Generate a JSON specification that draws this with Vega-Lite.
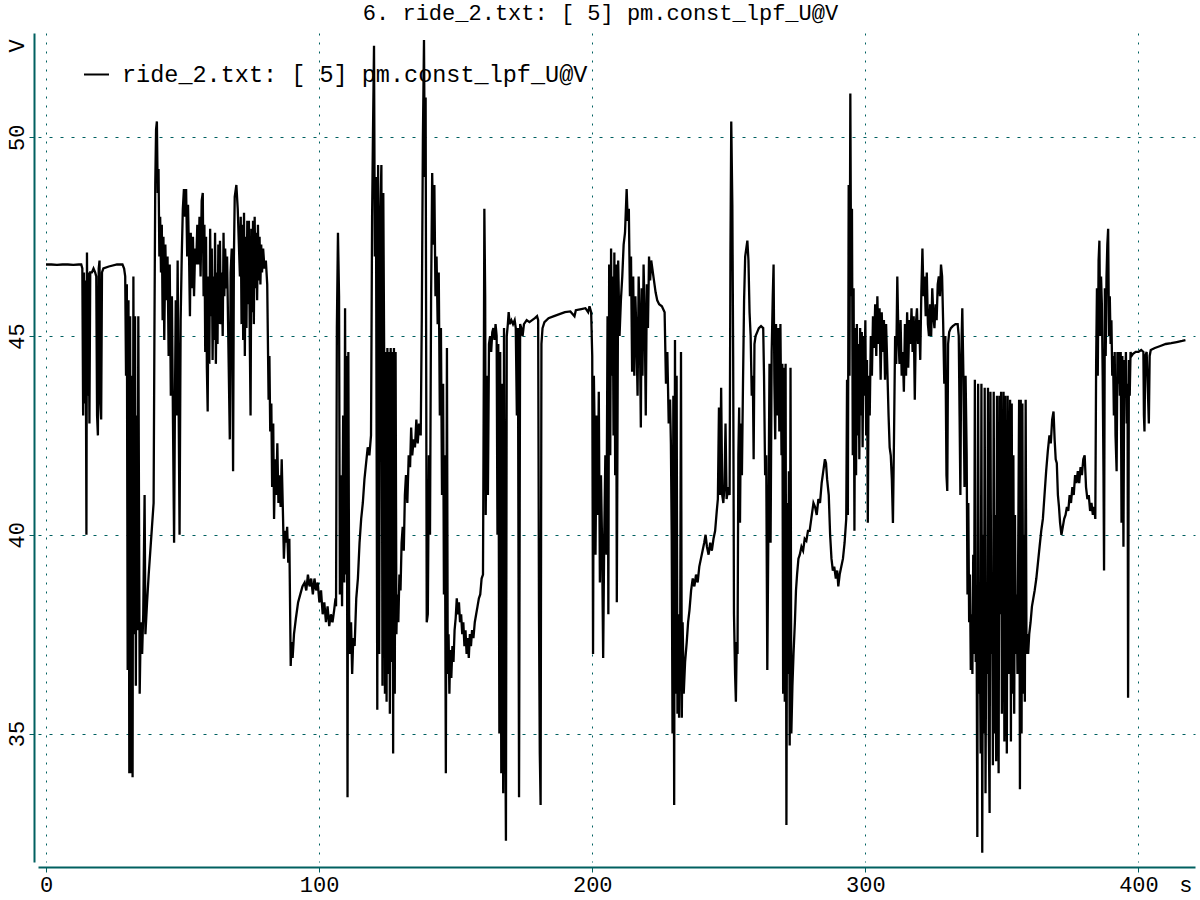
{
  "$schema": "https://vega.github.io/schema/vega-lite/v6.json",
  "width": 1157,
  "height": 829,
  "autosize": {"type": "none"},
  "padding": {"left": 38, "top": 33, "right": 5, "bottom": 38},
  "background": "white",
  "title": {"text": "6. ride_2.txt: [ 5] pm.const_lpf_U@V", "font": "Liberation Mono", "fontSize": 22, "fontWeight": "normal", "color": "#000000", "anchor": "middle", "offset": 14, "baseline": "alphabetic", "dx": -16, "dy": 23},
  "config": {"view": {"stroke": null}, "font": "Liberation Mono"},
  "data": {"values": [
{"t":0,"v":46.8},{"t":2,"v":46.8},{"t":4,"v":46.79},{"t":6,"v":46.8},{"t":8,"v":46.8},{"t":10,"v":46.79},{"t":12,"v":46.8},{"t":12.9,"v":46.8},
{"t":13.3,"v":46.7},{"t":13.6,"v":43.0},{"t":13.9,"v":46.6},{"t":14.2,"v":43.3},{"t":14.5,"v":46.4},{"t":14.8,"v":40.0},{"t":15.0,"v":47.1},{"t":15.3,"v":43.5},{"t":15.6,"v":46.6},{"t":15.9,"v":42.8},{"t":16.2,"v":46.6},{"t":16.8,"v":46.6},{"t":17.4,"v":46.7},{"t":18.0,"v":46.6},{"t":18.4,"v":46.5},{"t":18.7,"v":43.0},{"t":19.0,"v":42.5},{"t":19.3,"v":46.7},{"t":19.6,"v":46.9},{"t":19.9,"v":43.3},{"t":20.2,"v":42.9},{"t":20.5,"v":46.6},{"t":21.0,"v":46.7},{"t":23,"v":46.75},{"t":26,"v":46.8},{"t":28,"v":46.8},
{"t":28.6,"v":46.7},{"t":29.0,"v":46.5},{"t":29.3,"v":44.0},{"t":29.6,"v":46.3},{"t":29.9,"v":36.6},{"t":30.2,"v":45.9},{"t":30.5,"v":34.0},{"t":30.8,"v":45.5},{"t":31.1,"v":34.0},{"t":31.4,"v":44.0},{"t":31.7,"v":33.9},{"t":32.0,"v":46.5},{"t":32.3,"v":37.5},{"t":32.6,"v":45.5},{"t":32.9,"v":36.2},{"t":33.2,"v":43.0},{"t":33.5,"v":37.6},{"t":33.8,"v":45.5},{"t":34.3,"v":36.0},{"t":34.7,"v":37.8},{"t":35.2,"v":37.0},{"t":35.6,"v":38.0},{"t":36.1,"v":41.0},{"t":36.4,"v":37.5},{"t":37.0,"v":38.3},{"t":37.6,"v":39.0},{"t":38.2,"v":39.6},{"t":38.8,"v":40.2},{"t":39.4,"v":40.8},
{"t":39.7,"v":45.1},{"t":40.0,"v":48.8},{"t":40.3,"v":50.2},{"t":40.6,"v":50.4},{"t":40.9,"v":48.6},{"t":41.2,"v":49.2},{"t":41.5,"v":47.0},{"t":41.8,"v":48.0},{"t":42.1,"v":46.6},{"t":42.4,"v":47.8},{"t":42.7,"v":45.4},{"t":43.0,"v":47.5},{"t":43.3,"v":44.9},{"t":43.7,"v":47.3},{"t":44.1,"v":45.9},{"t":44.5,"v":47.0},{"t":44.9,"v":44.5},{"t":45.3,"v":46.8},{"t":45.7,"v":43.5},{"t":46.1,"v":46.0},{"t":46.5,"v":42.8},{"t":46.9,"v":39.8},{"t":47.2,"v":43.2},{"t":47.5,"v":45.9},{"t":47.8,"v":43.0},{"t":48.2,"v":46.9},{"t":48.6,"v":42.9},{"t":48.9,"v":40.0},{"t":49.3,"v":45.4},{"t":49.7,"v":47.0},{"t":50.1,"v":48.2},{"t":50.5,"v":48.7},{"t":50.9,"v":48.0},{"t":51.3,"v":48.7},{"t":51.7,"v":47.0},{"t":52.0,"v":48.3},{"t":52.4,"v":46.9},{"t":52.7,"v":45.5},{"t":53.0,"v":47.6},{"t":53.4,"v":46.2},{"t":53.8,"v":47.5},{"t":54.2,"v":46.0},{"t":54.6,"v":47.2},{"t":55.0,"v":46.8},{"t":55.4,"v":47.8},{"t":55.8,"v":46.8},{"t":56.2,"v":48.0},{"t":56.6,"v":46.5},{"t":57.0,"v":48.4},{"t":57.4,"v":48.6},{"t":57.7,"v":46.0},{"t":58.0,"v":47.8},{"t":58.3,"v":44.6},{"t":58.6,"v":47.5},{"t":58.9,"v":44.2},{"t":59.2,"v":43.1},{"t":59.5,"v":46.5},{"t":59.8,"v":44.3},{"t":60.1,"v":47.7},{"t":60.4,"v":45.5},{"t":60.7,"v":47.2},{"t":61.0,"v":44.4},{"t":61.3,"v":46.5},{"t":61.6,"v":44.9},{"t":61.9,"v":47.6},{"t":62.2,"v":44.3},{"t":62.5,"v":46.6},{"t":62.8,"v":44.8},{"t":63.1,"v":47.3},{"t":63.4,"v":45.3},{"t":63.7,"v":47.4},{"t":64.0,"v":45.3},{"t":64.3,"v":46.6},{"t":64.7,"v":45.0},{"t":65.0,"v":47.6},{"t":65.3,"v":46.0},{"t":65.6,"v":47.2},{"t":66.0,"v":46.2},{"t":66.3,"v":47.0},{"t":67.3,"v":42.4},{"t":67.6,"v":46.6},{"t":68.0,"v":47.2},{"t":68.5,"v":41.6},{"t":68.8,"v":47.0},{"t":69.1,"v":48.5},{"t":69.7,"v":48.8},{"t":70.2,"v":48.2},
{"t":71.0,"v":46.5},{"t":71.3,"v":48.0},{"t":71.6,"v":45.3},{"t":71.9,"v":47.8},{"t":72.2,"v":44.9},{"t":72.5,"v":48.1},{"t":72.8,"v":44.5},{"t":73.1,"v":47.5},{"t":73.4,"v":45.2},{"t":73.7,"v":47.9},{"t":74.0,"v":45.8},{"t":74.3,"v":47.9},{"t":74.6,"v":45.0},{"t":74.9,"v":43.0},{"t":75.2,"v":47.7},{"t":75.5,"v":45.6},{"t":75.8,"v":47.9},{"t":76.1,"v":45.3},{"t":76.4,"v":48.0},{"t":76.7,"v":46.2},{"t":77.0,"v":47.6},{"t":77.3,"v":45.9},{"t":77.6,"v":47.8},{"t":77.9,"v":46.4},{"t":78.2,"v":47.5},{"t":78.5,"v":46.3},{"t":78.8,"v":47.3},{"t":79.1,"v":46.6},{"t":79.5,"v":47.2},{"t":80.0,"v":46.7},{"t":80.5,"v":46.9},{"t":81.0,"v":46.3},{"t":81.5,"v":43.4},{"t":81.8,"v":44.5},{"t":82.1,"v":42.6},{"t":82.5,"v":43.3},{"t":82.8,"v":41.2},{"t":83.2,"v":42.8},{"t":83.5,"v":40.4},{"t":83.9,"v":41.9},{"t":84.3,"v":41.0},{"t":84.7,"v":42.3},{"t":85.1,"v":40.8},{"t":85.5,"v":41.5},{"t":85.9,"v":40.7},{"t":86.3,"v":41.9},{"t":86.8,"v":40.4},{"t":87.1,"v":39.4},{"t":87.5,"v":40.1},{"t":87.9,"v":39.8},{"t":88.3,"v":40.2},{"t":88.7,"v":39.3},{"t":89.1,"v":39.9},{"t":89.6,"v":36.7},{"t":89.9,"v":37.3},{"t":90.3,"v":36.9},{"t":90.8,"v":37.5},{"t":91.5,"v":37.9},{"t":92.3,"v":38.3},{"t":93.1,"v":38.5},{"t":93.9,"v":38.7},{"t":94.7,"v":38.8},{"t":95.3,"v":38.6},{"t":95.9,"v":39.0},{"t":96.5,"v":38.7},{"t":97.1,"v":38.9},{"t":97.7,"v":38.5},{"t":98.3,"v":38.9},{"t":98.9,"v":38.6},{"t":99.5,"v":38.8},{"t":100.1,"v":38.3},{"t":100.7,"v":38.6},{"t":101.3,"v":38.0},{"t":101.9,"v":38.3},{"t":102.5,"v":37.8},{"t":103.1,"v":38.2},{"t":103.7,"v":37.7},{"t":104.3,"v":38.0},{"t":104.9,"v":37.8},{"t":105.5,"v":38.1},{"t":106.0,"v":38.4},
{"t":106.2,"v":38.2},{"t":106.5,"v":45.2},{"t":106.9,"v":47.6},{"t":107.3,"v":46.0},{"t":107.6,"v":38.5},{"t":108.0,"v":41.5},{"t":108.4,"v":38.2},{"t":108.8,"v":43.0},{"t":109.2,"v":38.8},{"t":109.5,"v":45.7},{"t":109.8,"v":39.0},{"t":110.1,"v":44.5},{"t":110.4,"v":33.4},{"t":110.7,"v":44.6},{"t":111.0,"v":38.0},{"t":111.3,"v":37.0},{"t":111.7,"v":37.8},{"t":112.1,"v":36.5},{"t":112.5,"v":37.4},{"t":113.0,"v":37.2},{"t":113.6,"v":38.4},{"t":114.2,"v":38.9},{"t":114.8,"v":39.8},{"t":115.4,"v":40.4},{"t":116.0,"v":40.8},{"t":116.6,"v":41.4},{"t":117.2,"v":41.8},{"t":117.8,"v":42.2},{"t":118.4,"v":42.0},{"t":119.0,"v":42.5},{"t":119.4,"v":48.0},{"t":119.7,"v":50.0},{"t":120.1,"v":52.3},{"t":120.4,"v":47.0},{"t":120.8,"v":49.0},{"t":121.3,"v":35.6},{"t":121.6,"v":49.3},{"t":122.0,"v":37.0},{"t":122.4,"v":48.0},{"t":122.8,"v":49.3},{"t":123.2,"v":36.2},{"t":123.5,"v":48.6},{"t":123.8,"v":44.7},{"t":124.1,"v":36.0},{"t":124.4,"v":44.6},{"t":124.7,"v":35.8},{"t":125.0,"v":44.7},{"t":125.3,"v":36.5},{"t":125.6,"v":44.6},{"t":125.9,"v":35.5},{"t":126.2,"v":44.7},{"t":126.5,"v":36.8},{"t":126.8,"v":44.6},{"t":127.1,"v":34.5},{"t":127.4,"v":44.7},{"t":127.7,"v":36.0},{"t":128.0,"v":44.6},{"t":128.3,"v":37.5},{"t":128.6,"v":38.5},{"t":129.0,"v":37.8},{"t":129.4,"v":39.0},{"t":129.8,"v":38.6},{"t":130.2,"v":39.8},{"t":130.6,"v":40.2},{"t":131.0,"v":39.6},{"t":131.4,"v":41.0},{"t":131.8,"v":41.5},{"t":132.3,"v":40.8},{"t":132.8,"v":42.0},{"t":133.3,"v":41.7},{"t":133.7,"v":42.7},{"t":134.1,"v":42.0},{"t":134.6,"v":42.4},{"t":135.1,"v":42.2},{"t":135.6,"v":42.9},{"t":136.1,"v":42.3},{"t":136.6,"v":42.8},{"t":137.2,"v":42.5},{"t":137.6,"v":45.5},{"t":138.0,"v":50.0},{"t":138.4,"v":52.45},{"t":138.7,"v":49.0},{"t":139.0,"v":51.0},{"t":139.4,"v":37.8},
{"t":139.8,"v":38.0},{"t":140.2,"v":42.0},{"t":140.6,"v":40.0},{"t":141.0,"v":46.0},{"t":141.4,"v":49.1},{"t":141.8,"v":47.3},{"t":142.2,"v":48.8},{"t":142.6,"v":46.0},{"t":143.0,"v":47.0},{"t":143.4,"v":45.3},{"t":143.8,"v":46.6},{"t":144.2,"v":43.0},{"t":144.6,"v":45.2},{"t":145.0,"v":41.0},{"t":145.4,"v":43.8},{"t":145.7,"v":38.5},{"t":146.0,"v":42.0},{"t":146.4,"v":34.0},{"t":146.8,"v":44.7},{"t":147.1,"v":36.5},{"t":147.4,"v":37.5},{"t":147.7,"v":36.0},{"t":148.0,"v":37.1},{"t":148.4,"v":36.4},{"t":148.8,"v":37.2},{"t":149.2,"v":36.8},{"t":149.6,"v":37.6},{"t":150.0,"v":37.9},{"t":150.4,"v":38.4},{"t":150.8,"v":38.0},{"t":151.2,"v":38.3},{"t":151.6,"v":37.8},{"t":152.0,"v":38.0},{"t":152.4,"v":37.5},{"t":152.8,"v":37.8},{"t":153.2,"v":37.2},{"t":153.6,"v":37.6},{"t":154.0,"v":37.0},{"t":154.4,"v":37.4},{"t":154.8,"v":36.9},{"t":155.2,"v":37.5},{"t":155.6,"v":37.2},{"t":156.0,"v":37.6},{"t":156.5,"v":37.4},{"t":157.0,"v":37.8},{"t":157.5,"v":38.0},{"t":158.0,"v":38.2},{"t":158.5,"v":38.4},{"t":159.0,"v":38.5},{"t":159.5,"v":38.9},{"t":160.0,"v":39.0},{"t":160.3,"v":44.0},{"t":160.5,"v":48.2},{"t":160.8,"v":46.0},{"t":161.0,"v":40.5},{"t":161.4,"v":44.0},{"t":161.8,"v":41.0},{"t":162.2,"v":44.8},{"t":162.6,"v":45.0},{"t":163.0,"v":44.6},{"t":163.4,"v":45.1},{"t":163.8,"v":45.2},{"t":164.2,"v":44.9},{"t":164.6,"v":45.3},{"t":165.0,"v":45.0},{"t":165.3,"v":40.0},{"t":165.6,"v":44.8},{"t":166.0,"v":35.0},{"t":166.3,"v":44.6},{"t":166.7,"v":34.0},{"t":167.0,"v":43.8},{"t":167.4,"v":33.5},{"t":167.7,"v":45.2},{"t":168.1,"v":36.0},{"t":168.4,"v":32.3},{"t":168.7,"v":45.0},{"t":169.1,"v":45.3},{"t":169.4,"v":45.6},{"t":169.8,"v":45.3},{"t":170.4,"v":45.4},{"t":171.0,"v":45.3},{"t":171.6,"v":45.4},{"t":172.0,"v":45.2},{"t":172.4,"v":43.0},{"t":172.8,"v":45.2},{"t":173.2,"v":33.4},{"t":173.6,"v":45.3},{"t":174.0,"v":45.2},{"t":174.5,"v":45.0},{"t":175.0,"v":45.3},{"t":176.0,"v":45.4},{"t":177.0,"v":45.35},{"t":178.0,"v":45.4},{"t":179.0,"v":45.45},{"t":179.8,"v":45.5},{"t":180.2,"v":45.4},{"t":180.5,"v":38.0},{"t":180.8,"v":34.5},{"t":181.1,"v":33.2},{"t":181.4,"v":44.8},{"t":181.8,"v":45.2},{"t":182.5,"v":45.35},{"t":184,"v":45.45},{"t":186,"v":45.5},{"t":188,"v":45.55},{"t":190,"v":45.6},{"t":192,"v":45.62},{"t":193.5,"v":45.5},{"t":194,"v":45.65},{"t":196,"v":45.68},{"t":197.5,"v":45.7},{"t":198.5,"v":45.6},{"t":199.0,"v":45.75},{"t":199.6,"v":45.6},
{"t":200.0,"v":44.5},{"t":200.3,"v":37.0},{"t":200.6,"v":44.0},{"t":200.9,"v":42.5},{"t":201.2,"v":39.5},{"t":201.6,"v":43.0},{"t":202.0,"v":40.5},{"t":202.4,"v":43.6},{"t":202.8,"v":38.8},{"t":203.2,"v":41.5},{"t":203.6,"v":39.8},{"t":204.0,"v":36.9},{"t":204.4,"v":40.0},{"t":204.8,"v":42.0},{"t":205.2,"v":39.5},{"t":205.6,"v":45.5},{"t":205.9,"v":38.0},{"t":206.2,"v":46.8},{"t":206.6,"v":42.0},{"t":206.9,"v":47.2},{"t":207.2,"v":44.0},{"t":207.5,"v":46.5},{"t":207.8,"v":42.5},{"t":208.1,"v":47.1},{"t":208.4,"v":41.5},{"t":208.7,"v":46.8},{"t":209.0,"v":38.3},{"t":209.5,"v":46.9},{"t":210.0,"v":45.0},
{"t":210.5,"v":45.9},{"t":211.0,"v":46.5},{"t":211.5,"v":47.3},{"t":212.0,"v":47.6},{"t":212.6,"v":48.7},{"t":213.0,"v":47.9},{"t":213.4,"v":48.2},{"t":213.8,"v":46.0},{"t":214.2,"v":47.0},{"t":214.6,"v":44.1},{"t":215.0,"v":46.5},{"t":215.4,"v":44.0},{"t":215.8,"v":46.0},{"t":216.2,"v":45.0},{"t":216.6,"v":43.5},{"t":217.0,"v":46.5},{"t":217.4,"v":45.3},{"t":217.8,"v":42.7},{"t":218.1,"v":46.2},{"t":218.4,"v":44.0},{"t":218.8,"v":46.8},{"t":219.2,"v":45.5},{"t":219.6,"v":43.0},{"t":220.0,"v":46.3},{"t":220.4,"v":45.2},{"t":220.8,"v":47.0},{"t":221.2,"v":46.4},{"t":221.6,"v":46.9},{"t":222.0,"v":46.7},{"t":222.6,"v":46.4},{"t":223.2,"v":46.1},{"t":223.8,"v":45.9},{"t":224.5,"v":45.8},{"t":225.5,"v":45.75},{"t":226.5,"v":45.6},{"t":227.0,"v":43.8},{"t":227.5,"v":44.6},{"t":228.0,"v":42.8},{"t":228.5,"v":43.4},{"t":228.8,"v":42.3},{"t":229.1,"v":40.0},{"t":229.4,"v":35.0},{"t":229.7,"v":43.5},{"t":230.0,"v":33.2},{"t":230.3,"v":44.9},{"t":230.6,"v":36.0},{"t":230.9,"v":44.0},{"t":231.2,"v":35.5},{"t":231.5,"v":38.0},{"t":231.8,"v":35.4},{"t":232.2,"v":37.5},{"t":232.5,"v":44.6},{"t":232.8,"v":35.4},{"t":233.1,"v":37.8},{"t":233.5,"v":36.0},{"t":234.0,"v":36.8},{"t":234.6,"v":37.3},{"t":235.1,"v":37.8},{"t":235.6,"v":38.1},{"t":236.2,"v":38.6},{"t":236.8,"v":38.9},{"t":237.4,"v":38.7},{"t":238.0,"v":39.0},{"t":238.6,"v":38.8},{"t":239.2,"v":39.2},{"t":239.8,"v":39.4},{"t":240.4,"v":39.6},{"t":241.0,"v":39.8},{"t":241.5,"v":40.0},{"t":242.0,"v":39.7},{"t":242.6,"v":39.5},{"t":243.2,"v":39.8},{"t":243.8,"v":39.6},{"t":244.4,"v":39.9},{"t":245.0,"v":40.1},{"t":245.6,"v":40.6},{"t":246.0,"v":40.9},{"t":246.4,"v":43.2},{"t":246.8,"v":41.0},{"t":247.2,"v":43.7},{"t":247.6,"v":41.0},{"t":248.0,"v":40.8},{"t":248.4,"v":41.2},{"t":248.8,"v":42.8},{"t":249.2,"v":40.9},{"t":249.8,"v":41.2},{"t":250.3,"v":41.0},{"t":250.6,"v":47.0},{"t":250.9,"v":50.4},{"t":251.3,"v":48.3},{"t":251.6,"v":44.5},{"t":251.9,"v":38.0},{"t":252.3,"v":36.5},{"t":252.6,"v":35.8},{"t":252.9,"v":37.3},{"t":253.2,"v":37.0},{"t":253.5,"v":42.0},{"t":253.8,"v":43.2},{"t":254.1,"v":40.3},{"t":254.4,"v":42.8},{"t":254.8,"v":41.5},{"t":255.2,"v":43.8},{"t":255.6,"v":45.9},{"t":256.0,"v":47.0},{"t":256.4,"v":47.2},{"t":256.8,"v":47.4},{"t":257.2,"v":46.9},{"t":257.6,"v":45.6},{"t":258.0,"v":45.0},{"t":258.4,"v":43.5},{"t":258.8,"v":44.0},{"t":259.1,"v":41.9},{"t":259.4,"v":44.8},{"t":259.8,"v":45.0},{"t":260.4,"v":45.1},{"t":261.0,"v":45.2},{"t":261.8,"v":45.25},{"t":262.6,"v":45.2},{"t":262.9,"v":44.0},{"t":263.3,"v":41.5},{"t":263.7,"v":42.0},{"t":264.1,"v":36.6},{"t":264.5,"v":40.2},{"t":264.9,"v":44.3},{"t":265.3,"v":39.8},{"t":265.7,"v":44.6},{"t":266.1,"v":46.0},{"t":266.4,"v":46.8},{"t":266.7,"v":43.8},{"t":267.0,"v":42.4},{"t":267.3,"v":45.3},{"t":267.7,"v":43.0},{"t":268.1,"v":45.2},{"t":268.5,"v":42.6},{"t":268.9,"v":45.3},{"t":269.3,"v":42.0},{"t":269.6,"v":44.3},{"t":269.9,"v":36.0},{"t":270.2,"v":44.2},{"t":270.5,"v":35.8},{"t":270.8,"v":44.3},{"t":271.1,"v":32.7},{"t":271.4,"v":40.8},{"t":271.7,"v":36.5},{"t":272.0,"v":41.6},{"t":272.3,"v":34.7},{"t":272.6,"v":44.2},{"t":272.9,"v":35.0},{"t":273.3,"v":36.2},{"t":273.7,"v":37.0},{"t":274.2,"v":37.8},{"t":274.6,"v":38.6},{"t":275.0,"v":39.0},{"t":275.5,"v":39.4},{"t":276.0,"v":39.5},{"t":276.6,"v":39.7},{"t":277.2,"v":39.6},{"t":277.8,"v":39.9},{"t":278.4,"v":39.85},{"t":279.0,"v":40.1},{"t":279.6,"v":40.1},
{"t":280.2,"v":40.4},{"t":281.0,"v":40.8},{"t":281.6,"v":40.7},{"t":282.2,"v":40.5},{"t":282.8,"v":40.9},{"t":283.4,"v":40.8},{"t":284.0,"v":41.3},{"t":284.6,"v":41.6},{"t":285.2,"v":41.9},{"t":285.6,"v":41.8},{"t":286.0,"v":41.4},{"t":286.6,"v":41.0},{"t":287.1,"v":40.0},{"t":287.6,"v":39.4},{"t":288.1,"v":39.1},{"t":288.6,"v":39.2},{"t":289.2,"v":38.9},{"t":289.7,"v":39.1},{"t":290.1,"v":38.7},{"t":290.6,"v":39.0},{"t":291.2,"v":39.2},{"t":291.8,"v":39.4},{"t":292.4,"v":39.8},{"t":293.0,"v":40.4},{"t":293.3,"v":43.9},{"t":293.6,"v":40.5},{"t":293.9,"v":48.8},{"t":294.2,"v":44.0},{"t":294.5,"v":51.1},{"t":294.8,"v":46.0},{"t":295.1,"v":48.2},{"t":295.4,"v":42.0},{"t":295.7,"v":46.2},{"t":296.0,"v":40.1},{"t":296.3,"v":45.2},{"t":296.6,"v":41.5},{"t":296.9,"v":45.3},{"t":297.2,"v":42.5},{"t":297.5,"v":44.8},{"t":297.8,"v":41.9},{"t":298.1,"v":45.2},{"t":298.4,"v":43.0},{"t":298.7,"v":45.1},{"t":299.0,"v":42.2},{"t":299.3,"v":45.0},{"t":299.6,"v":43.5},{"t":300.0,"v":45.4},{"t":300.3,"v":42.5},{"t":300.6,"v":44.4},{"t":300.9,"v":40.3},{"t":301.2,"v":44.0},{"t":301.6,"v":43.0},{"t":302.0,"v":45.0},{"t":302.4,"v":44.0},{"t":302.8,"v":45.5},{"t":303.2,"v":44.7},{"t":303.6,"v":45.8},{"t":304.0,"v":44.5},{"t":304.4,"v":46.0},{"t":304.8,"v":44.8},{"t":305.2,"v":45.7},{"t":305.6,"v":43.9},{"t":306.0,"v":45.6},{"t":306.4,"v":44.6},{"t":306.8,"v":45.4},{"t":307.2,"v":43.9},{"t":307.6,"v":45.3},{"t":308.0,"v":44.3},{"t":308.5,"v":43.0},{"t":308.9,"v":42.2},{"t":309.3,"v":42.0},{"t":309.7,"v":41.4},{"t":310.1,"v":40.3},{"t":310.5,"v":42.5},{"t":310.9,"v":45.0},{"t":311.3,"v":44.3},{"t":311.7,"v":46.5},{"t":312.1,"v":45.0},{"t":312.5,"v":44.3},{"t":312.9,"v":45.4},{"t":313.3,"v":44.0},{"t":313.7,"v":44.6},{"t":314.1,"v":43.6},{"t":314.5,"v":45.3},{"t":314.9,"v":44.0},{"t":315.3,"v":45.6},{"t":315.7,"v":44.2},{"t":316.1,"v":45.4},{"t":316.5,"v":44.8},{"t":316.9,"v":45.7},{"t":317.3,"v":44.6},{"t":317.7,"v":45.5},{"t":318.1,"v":43.4},{"t":318.5,"v":45.3},{"t":318.9,"v":45.7},{"t":319.3,"v":44.8},{"t":319.7,"v":45.4},{"t":320.1,"v":44.4},{"t":320.5,"v":46.1},{"t":320.9,"v":47.2},{"t":321.3,"v":46.0},{"t":321.7,"v":46.5},{"t":322.1,"v":45.5},{"t":322.5,"v":46.6},{"t":322.9,"v":45.3},{"t":323.3,"v":45.0},{"t":323.7,"v":45.8},{"t":324.1,"v":45.0},{"t":324.5,"v":46.2},{"t":324.9,"v":45.5},{"t":325.3,"v":45.2},{"t":325.7,"v":45.8},{"t":326.1,"v":45.4},{"t":326.5,"v":46.3},{"t":326.9,"v":46.5},{"t":327.3,"v":46.0},{"t":327.7,"v":46.8},{"t":328.1,"v":46.5},{"t":328.5,"v":45.3},{"t":328.9,"v":43.8},{"t":329.3,"v":45.0},{"t":329.7,"v":41.5},{"t":330.0,"v":41.1},{"t":330.3,"v":44.8},{"t":330.7,"v":45.1},{"t":331.3,"v":45.2},{"t":332.0,"v":45.25},{"t":333.0,"v":45.3},{"t":333.8,"v":45.3},{"t":334.2,"v":45.0},{"t":334.5,"v":43.0},{"t":334.8,"v":41.0},{"t":335.1,"v":44.5},{"t":335.5,"v":45.7},{"t":335.9,"v":44.0},{"t":336.3,"v":41.2},{"t":336.7,"v":44.0},{"t":337.1,"v":42.0},{"t":337.4,"v":38.5},{"t":337.7,"v":40.8},{"t":338.0,"v":37.8},{"t":338.3,"v":39.0},{"t":338.6,"v":36.6},{"t":338.9,"v":38.0},{"t":339.2,"v":36.5},{"t":339.5,"v":39.5},{"t":339.8,"v":37.0},{"t":340.1,"v":43.9},{"t":340.4,"v":36.8},{"t":340.7,"v":38.5},{"t":341.0,"v":32.4},{"t":341.3,"v":43.8},{"t":341.6,"v":36.0},{"t":341.9,"v":37.8},{"t":342.2,"v":34.5},{"t":342.5,"v":43.8},{"t":342.8,"v":32.0},{"t":343.1,"v":40.0},{"t":343.4,"v":35.0},{"t":343.7,"v":43.7},{"t":344.0,"v":33.5},{"t":344.3,"v":38.5},{"t":344.6,"v":36.5},{"t":344.9,"v":43.7},{"t":345.2,"v":35.0},{"t":345.5,"v":33.0},{"t":345.8,"v":43.6},{"t":346.1,"v":37.0},{"t":346.4,"v":39.0},{"t":346.7,"v":34.2},{"t":347.0,"v":43.6},{"t":347.3,"v":35.0},{"t":347.6,"v":40.5},{"t":347.9,"v":34.3},{"t":348.2,"v":43.5},{"t":348.5,"v":36.8},{"t":348.8,"v":34.0},{"t":349.1,"v":43.5},
{"t":349.4,"v":38.0},{"t":349.7,"v":43.6},{"t":350.0,"v":35.5},{"t":350.3,"v":40.0},{"t":350.6,"v":43.6},{"t":350.9,"v":34.8},{"t":351.2,"v":43.5},{"t":351.5,"v":37.5},{"t":351.8,"v":34.5},{"t":352.1,"v":43.5},{"t":352.4,"v":36.5},{"t":352.7,"v":41.0},{"t":353.0,"v":43.4},{"t":353.3,"v":34.8},{"t":353.6,"v":43.3},{"t":353.9,"v":36.0},{"t":354.2,"v":42.0},{"t":354.5,"v":35.5},{"t":354.8,"v":40.5},{"t":355.1,"v":37.0},{"t":355.4,"v":38.5},{"t":355.7,"v":36.5},{"t":356.0,"v":40.0},{"t":356.3,"v":43.4},{"t":356.6,"v":33.6},{"t":356.9,"v":43.4},{"t":357.2,"v":35.0},{"t":357.5,"v":43.3},{"t":357.8,"v":36.0},{"t":358.1,"v":40.0},{"t":358.4,"v":35.8},{"t":358.7,"v":43.4},{"t":359.0,"v":37.0},{"t":359.3,"v":37.5},{"t":359.6,"v":37.0},{"t":360.0,"v":37.5},{"t":360.5,"v":37.8},{"t":361.0,"v":38.2},{"t":361.5,"v":38.4},{"t":362.0,"v":38.6},{"t":362.6,"v":38.9},{"t":363.2,"v":39.3},{"t":363.8,"v":39.7},{"t":364.4,"v":40.1},{"t":365.0,"v":40.4},{"t":365.6,"v":41.0},{"t":366.2,"v":41.6},{"t":366.8,"v":42.1},{"t":367.4,"v":42.5},{"t":367.9,"v":42.3},{"t":368.4,"v":42.9},{"t":368.9,"v":43.1},{"t":369.3,"v":42.4},{"t":369.7,"v":41.9},{"t":370.1,"v":41.8},{"t":370.5,"v":41.0},{"t":370.9,"v":40.7},{"t":371.3,"v":40.3},{"t":371.8,"v":40.0},{"t":372.3,"v":40.2},{"t":372.8,"v":40.4},{"t":373.3,"v":40.5},{"t":373.8,"v":40.7},{"t":374.3,"v":40.6},{"t":374.8,"v":41.0},{"t":375.3,"v":40.8},{"t":375.8,"v":41.2},{"t":376.3,"v":41.0},{"t":376.8,"v":41.5},{"t":377.3,"v":41.3},{"t":377.8,"v":41.6},{"t":378.3,"v":41.3},{"t":378.8,"v":41.7},{"t":379.3,"v":41.5},{"t":379.8,"v":41.9},{"t":380.3,"v":42.0},{"t":380.8,"v":41.2},{"t":381.3,"v":40.9},{"t":381.8,"v":41.0},{"t":382.3,"v":40.6},{"t":382.8,"v":40.8},{"t":383.3,"v":40.5},{"t":383.8,"v":40.7},{"t":384.2,"v":40.4},{"t":384.5,"v":44.3},{"t":384.8,"v":46.2},{"t":385.1,"v":44.0},{"t":385.4,"v":46.9},{"t":385.7,"v":47.4},{"t":386.0,"v":45.0},{"t":386.3,"v":46.5},{"t":386.6,"v":45.8},{"t":386.9,"v":44.0},{"t":387.2,"v":41.5},{"t":387.4,"v":39.1},{"t":387.7,"v":46.2},{"t":388.0,"v":44.5},{"t":388.3,"v":46.5},{"t":388.6,"v":47.3},{"t":388.9,"v":47.7},{"t":389.2,"v":45.0},{"t":389.5,"v":46.0},{"t":389.8,"v":44.8},{"t":390.1,"v":45.4},{"t":390.4,"v":44.0},{"t":390.7,"v":44.5},{"t":391.0,"v":43.0},{"t":391.3,"v":44.6},{"t":391.6,"v":42.5},{"t":392.0,"v":41.6},{"t":392.3,"v":44.6},{"t":392.6,"v":43.8},{"t":392.9,"v":44.6},{"t":393.2,"v":43.5},{"t":393.5,"v":44.6},{"t":393.8,"v":40.3},{"t":394.1,"v":44.5},{"t":394.5,"v":39.7},{"t":394.8,"v":44.4},{"t":395.1,"v":43.6},{"t":395.4,"v":44.6},{"t":395.7,"v":42.8},{"t":396.0,"v":43.8},{"t":396.2,"v":35.9},{"t":396.5,"v":44.4},{"t":396.8,"v":43.5},{"t":397.1,"v":44.6},{"t":397.5,"v":44.5},{"t":398.0,"v":44.55},{"t":399.0,"v":44.6},{"t":400.0,"v":44.6},{"t":401.0,"v":44.65},{"t":401.8,"v":44.6},{"t":402.0,"v":43.0},{"t":402.2,"v":42.6},{"t":402.5,"v":44.5},{"t":403.0,"v":44.6},{"t":403.5,"v":43.5},{"t":403.8,"v":42.8},{"t":404.1,"v":44.5},{"t":404.5,"v":44.65},{"t":406.0,"v":44.7},{"t":408.0,"v":44.75},{"t":410.0,"v":44.8},{"t":412.0,"v":44.82},{"t":414.0,"v":44.85},{"t":416.0,"v":44.88},{"t":417.2,"v":44.9}
  ]},
  "mark": {"type": "line", "strokeWidth": 2.3, "clip": true},
  "encoding": {
    "x": {
      "field": "t", "type": "quantitative",
      "scale": {"domain": [-2.93, 420.7], "nice": false, "zero": false},
      "axis": {
        "values": [0, 100, 200, 300, 400], "offset": 5,
        "domainColor": "#006060", "domainWidth": 2,
        "tickColor": "#006060", "tickSize": 5, "tickWidth": 1,
        "grid": true, "gridColor": "#006060", "gridDash": [2, 7], "gridWidth": 1,
        "labelFont": "Liberation Mono", "labelFontSize": 22, "labelColor": "#000000",
        "labelBaseline": "alphabetic", "labelPadding": 19, "labelFlush": false,
        "title": "s", "titleFont": "Liberation Mono", "titleFontSize": 22, "titleFontWeight": "normal", "titleColor": "#000000",
        "titleX": 1154, "titleY": 24, "titleAlign": "right", "titleBaseline": "alphabetic"
      }
    },
    "y": {
      "field": "v", "type": "quantitative",
      "scale": {"domain": [31.768, 52.624], "nice": false, "zero": false},
      "axis": {
        "values": [35, 40, 45, 50], "offset": 4,
        "domainColor": "#006060", "domainWidth": 2,
        "tickColor": "#006060", "tickSize": 5, "tickWidth": 1,
        "grid": true, "gridColor": "#006060", "gridDash": [3, 8], "gridWidth": 1,
        "labelFont": "Liberation Mono", "labelFontSize": 22, "labelColor": "#000000",
        "labelAngle": -90, "labelAlign": "center", "labelBaseline": "alphabetic", "labelPadding": 6,
        "title": "V", "titleFont": "Liberation Mono", "titleFontSize": 22, "titleFontWeight": "normal", "titleColor": "#000000",
        "titleAngle": -90, "titleX": -11, "titleY": 19, "titleAlign": "left", "titleBaseline": "alphabetic"
      }
    },
    "color": {
      "datum": "ride_2.txt: [ 5] pm.const_lpf_U@V", "type": "nominal",
      "scale": {"range": ["#000000"]},
      "legend": {
        "orient": "none", "legendX": 45, "legendY": 28, "title": null, "padding": 0,
        "symbolType": "stroke", "symbolSize": 625, "symbolStrokeWidth": 2,
        "labelFont": "Liberation Mono", "labelFontSize": 23.5, "labelColor": "#000000", "labelOffset": 12, "labelLimit": 0
      }
    }
  }
}
